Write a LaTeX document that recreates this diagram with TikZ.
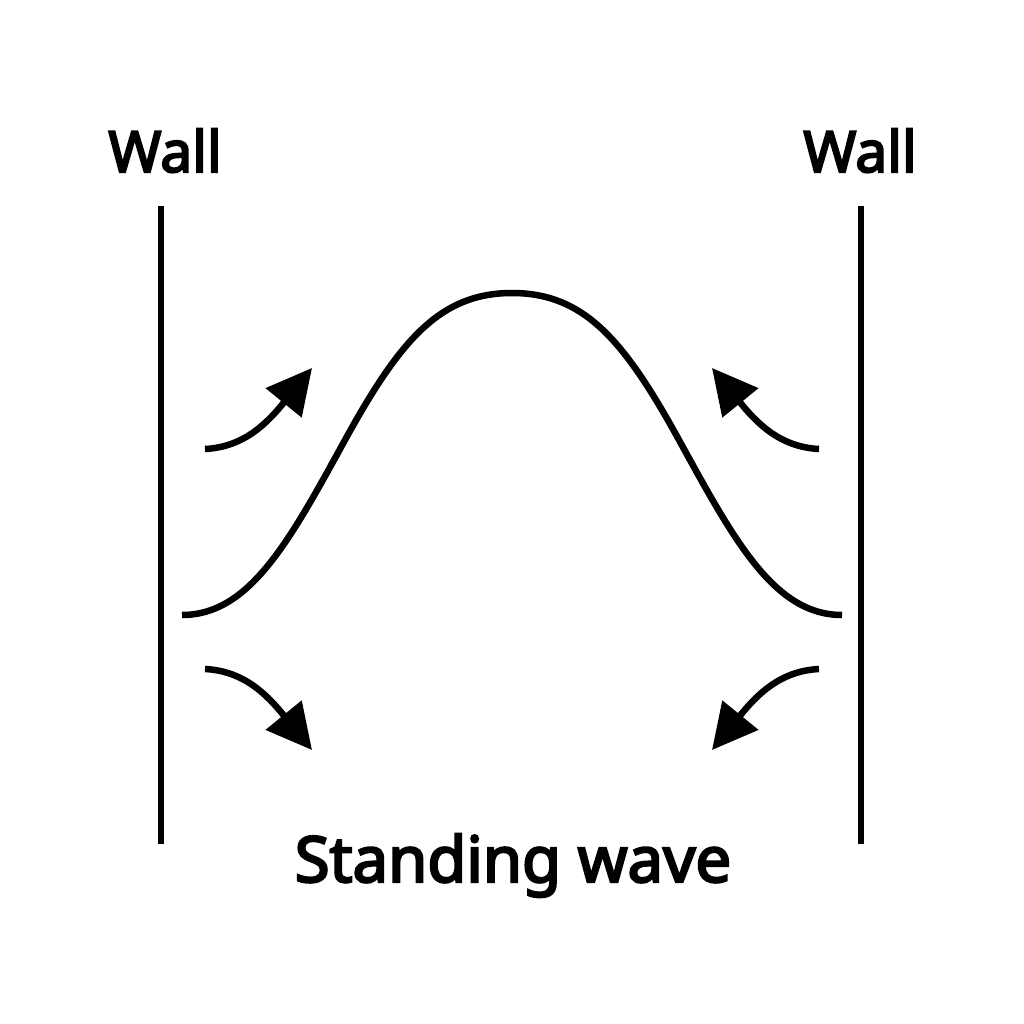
\documentclass[tikz,border=0pt]{standalone}
\usepackage{fontspec}
\setmainfont{Noto Sans}
\newfontfamily\headfont{Noto Sans}[FakeBold=3.6]
\usetikzlibrary{arrows.meta}
\begin{document}
\begin{tikzpicture}[x=1pt,y=-1pt,
  wallline/.style={line width=6.5pt},
  wave/.style={line width=6.5pt},
  flow/.style={line width=6.5pt,-{Triangle[length=45pt,width=45pt]}},
  lbl/.style={font=\headfont\fontsize{57}{60}\selectfont,anchor=base,inner sep=0pt},
  title/.style={font=\headfont\fontsize{63.5}{68}\selectfont,anchor=base,inner sep=0pt}]
\useasboundingbox (0,0) rectangle (1024,1024);
\fill[white] (0,0) rectangle (1024,1024);
% walls
\coordinate (lwt) at (161,206);
\coordinate (lwb) at (161,844);
\coordinate (rwt) at (861,206);
\coordinate (rwb) at (861,844);
\draw[wallline] (lwt) -- (lwb);
\draw[wallline] (rwt) -- (rwb);
% labels
\node[lbl] (lwall) at (165,172) {Wall};
\node[lbl] (rwall) at (860,172) {Wall};
\node[title] (sw) at (513,882) {Standing wave};
% wave
\coordinate (ws) at (182,615);
\coordinate (wi1) at (345,440);
\coordinate (wp) at (512,293);
\coordinate (wi2) at (679,440);
\coordinate (we) at (842,615);
\draw[wave] (ws) .. controls (250,615) and (290,540) .. (wi1)
  .. controls (400,340) and (440,293) .. (wp)
  .. controls (584,293) and (624,340) .. (wi2)
  .. controls (734,540) and (774,615) .. (we);
% arrows
\coordinate (a1s) at (205,449);
\coordinate (a1e) at (312,368);
\coordinate (a2s) at (205,669);
\coordinate (a2e) at (312,750);
\coordinate (a3s) at (819,449);
\coordinate (a3e) at (712,368);
\coordinate (a4s) at (819,669);
\coordinate (a4e) at (712,750);
\draw[flow] (a1s) .. controls (245,447) and (268,422) .. (a1e);
\draw[flow] (a2s) .. controls (245,671) and (268,696) .. (a2e);
\draw[flow] (a3s) .. controls (779,447) and (756,422) .. (a3e);
\draw[flow] (a4s) .. controls (779,671) and (756,696) .. (a4e);
\end{tikzpicture}
\end{document}
